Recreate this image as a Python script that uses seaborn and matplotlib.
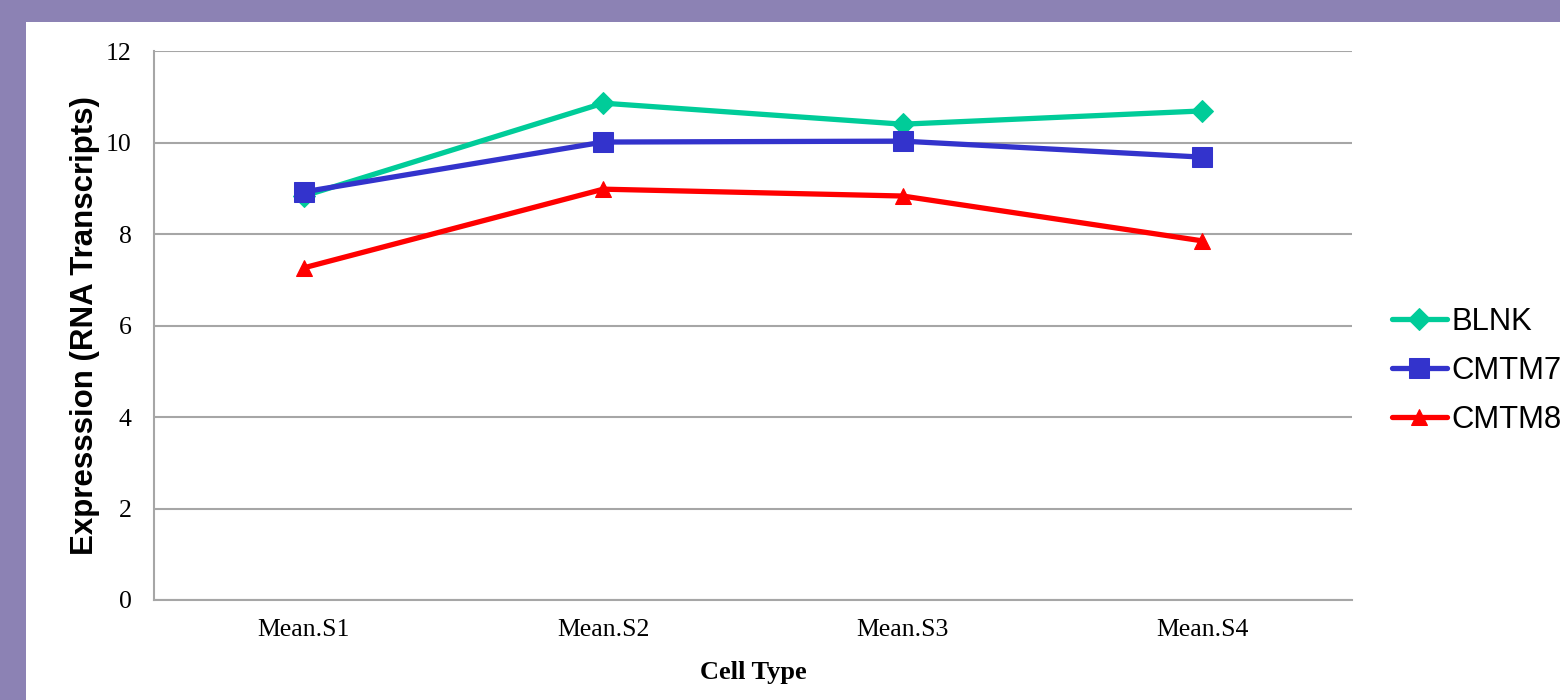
import matplotlib
matplotlib.use("Agg")
import matplotlib.pyplot as plt
from matplotlib.patches import Rectangle
import seaborn as sns
import pandas as pd

# Mean expression per cell type
categories = ["Mean.S1", "Mean.S2", "Mean.S3", "Mean.S4"]
blnk = [8.83, 10.86, 10.40, 10.69]
cmtm7 = [8.92, 10.01, 10.03, 9.68]
cmtm8 = [7.26, 8.98, 8.83, 7.85]
genes = ["BLNK", "CMTM7", "CMTM8"]
y_ticks = [0, 2, 4, 6, 8, 10, 12]

colors = {"BLNK": "#00CC99", "CMTM7": "#3333CC", "CMTM8": "#FF0000"}
markers = {"BLNK": "D", "CMTM7": "s", "CMTM8": "^"}
msizes = {"BLNK": 11, "CMTM7": 14.5, "CMTM8": 11.5}

df = pd.DataFrame({
    "Cell Type": categories * 3,
    "Expression": blnk + cmtm7 + cmtm8,
    "Gene": [g for g in genes for _ in categories],
})

sns.set_theme(style="white")
plt.rcParams["font.family"] = ["Liberation Serif", "DejaVu Serif"]
plt.rcParams["text.color"] = "black"

W, H = 1560, 700
fig = plt.figure(figsize=(W / 100, H / 100), dpi=100, facecolor="#8C82B4")
# white page inside the purple frame
fig.patches.append(Rectangle((26 / W, 0), 1 - 26 / W, (H - 22) / H,
                             transform=fig.transFigure, facecolor="white",
                             edgecolor="none", zorder=-10))

ax = fig.add_axes([154 / W, (H - 600) / H, (1352 - 154) / W, (600 - 51) / H])
ax.set_facecolor("white")

for g in genes:
    sub = df[df["Gene"] == g]
    sns.lineplot(data=sub, x="Cell Type", y="Expression", ax=ax, sort=False,
                 errorbar=None, color=colors[g], marker=markers[g],
                 markersize=msizes[g], markeredgecolor=colors[g],
                 linewidth=3.8, label=g, zorder=3)

ax.set_xlim(-0.5, 3.5)
ax.set_ylim(0, 12)
ax.set_yticks(y_ticks)
ax.set_yticklabels([str(t) for t in y_ticks])
ax.yaxis.grid(True, color="#A6A6A6", linewidth=1.5)
ax.xaxis.grid(False)
ax.set_axisbelow(True)
for side in ["top", "right"]:
    ax.spines[side].set_visible(False)
for side in ["left", "bottom"]:
    ax.spines[side].set_color("#A6A6A6")
    ax.spines[side].set_linewidth(1.5)

ax.tick_params(axis="y", length=0, pad=16, labelsize=18.5, labelcolor="black")
ax.tick_params(axis="x", length=0, pad=14, labelsize=18.5, labelcolor="black")

ax.set_xlabel("Cell Type", fontsize=19, fontweight="bold", color="black",
              family="Liberation Serif", labelpad=14)
ax.set_ylabel("Expresssion (RNA Transcripts)", fontsize=22.5, fontweight="bold",
              color="black", family="Liberation Sans", labelpad=4)

handles, labels = ax.get_legend_handles_labels()
leg = ax.legend(handles, labels, loc="center left",
                bbox_to_anchor=(1392 / W, (H - 371) / H),
                bbox_transform=fig.transFigure, frameon=False,
                prop={"family": "Liberation Sans", "size": 22.3},
                handlelength=1.77, handletextpad=0.16, labelspacing=0.62,
                borderpad=0, borderaxespad=0)
for t in leg.get_texts():
    t.set_color("black")

fig.savefig("out.png", dpi=100, facecolor=fig.get_facecolor())
